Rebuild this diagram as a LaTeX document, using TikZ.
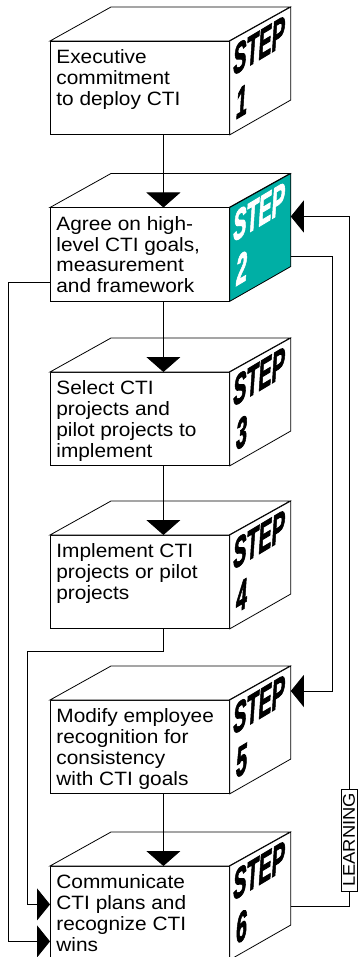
\documentclass[tikz,border=0pt]{standalone}
\usepackage{fontspec}
\setmainfont{Liberation Sans}[FakeStretch=1.08]
\newfontfamily\stepfont{Liberation Sans}[UprightFont={Liberation Sans Bold}, FakeBold=2.5, FakeSlant=0.15]
\usetikzlibrary{arrows.meta,calc,positioning}
\definecolor{stepteal}{HTML}{00AFA5}

\begin{document}
\begin{tikzpicture}[x=1pt, y=1pt, line width=0.8pt,
  front/.style={draw, fill=white, anchor=north west, minimum width=179pt, minimum height=93pt,
    inner xsep=6pt, inner ysep=8.5pt, font=\fontsize{19.3}{20.8}\selectfont},
  steplbl/.style={font=\stepfont\fontsize{42}{42}\selectfont,
    yslant=0.6, xscale=0.47, transform shape, inner sep=0pt},
  flow/.style={-{Triangle[width=34pt,length=15pt]}},
  feedback/.style={-{Triangle[width=32pt,length=13pt]}}]
  \useasboundingbox (0,0) rectangle (360,-957);
  \clip (0,0) rectangle (360,-957);

  \node[front] (s1) at (50,-41) {\parbox[c][76pt][t]{167pt}{Executive\\commitment\\to deploy CTI}};
  \node[front] (s2) at (50,-207.5) {\parbox[c][76pt][t]{167pt}{Agree on high-\\level CTI goals,\\measurement\\and framework}};
  \node[front] (s3) at (50,-372) {\parbox[c][76pt][t]{167pt}{Select CTI\\projects and\\pilot projects to\\implement}};
  \node[front] (s4) at (50,-535) {\parbox[c][76pt][t]{167pt}{Implement CTI\\projects or pilot\\projects}};
  \node[front] (s5) at (50,-700) {\parbox[c][76pt][t]{167pt}{Modify employee\\recognition for\\consistency\\with CTI goals}};
  \node[front] (s6) at (50,-866) {\parbox[c][76pt][t]{167pt}{Communicate\\CTI plans and\\recognize CTI\\wins}};

  % top and side of each cube
  \foreach \s/\n/\c/\t in {s1/1/white/black, s2/2/stepteal/white, s3/3/white/black,
      s4/4/white/black, s5/5/white/black, s6/6/white/black} {
    \draw[fill=white] (\s.north west) -- ++(61,34) -- ++(179,0) -- ++(-61,-34) -- cycle;
    \draw[fill=\c] (\s.north east) -- ++(61,34) -- ++(0,-93) -- (\s.south east) -- cycle;
    \coordinate (\s-back) at ($(\s.north east)+(61,34)$);
    \node[steplbl, text=\t] (\s-word) at ($(\s.north east)+(28.5,-5)$) {STEP};
    \node[steplbl, text=\t] (\s-num) at ($(\s.north east)+(11,-61)$) {\n};
  }

  \node[draw, fill=white, rotate=90, inner xsep=4pt, inner ysep=2pt,
    font=\fontsize{17}{17}\selectfont] (learn) at (349,-840) {LEARNING};

  \draw[flow] ([xshift=23.5pt]s1.south) -- ([xshift=23.5pt]s2.north);
  \draw[flow] ([xshift=23.5pt]s2.south) -- ([xshift=23.5pt]s3.north);
  \draw[flow] ([xshift=23.5pt]s3.south) -- ([xshift=23.5pt]s4.north);
  \draw[flow] ([xshift=23.5pt]s5.south) -- ([xshift=23.5pt]s6.north);

  \draw[feedback] ([xshift=23.5pt]s4.south) -- ++(0,-23) -- ++(-136,0) |- ([yshift=8.5pt]s6.west);
  \draw[feedback] ([yshift=-28pt]s2.west) -- ++(-42,0) |- ([yshift=-28.5pt]s6.west);
  \draw[feedback] ([yshift=-83pt]s2-back) -- ++(42,0) |- ([yshift=-25pt]s5-back);
  \draw ([yshift=-74pt]s6-back) -| (learn.west);
  \draw[feedback] (learn.east) |- ([yshift=-43pt]s2-back);
\end{tikzpicture}
\end{document}
